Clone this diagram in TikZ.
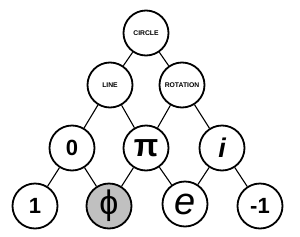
\documentclass[tikz,border=0pt]{standalone}
\usepackage{fontspec}
\setmainfont{Liberation Sans}
\begin{document}
\begin{tikzpicture}[x=1pt,y=-1pt,
  nd/.style={circle,draw=black,line width=1.8pt,fill=white,minimum size=45pt,inner sep=0pt},
  small/.style={font=\bfseries\fontsize{6.8}{7}\selectfont},
  big/.style={font=\bfseries\fontsize{22}{24}\selectfont},
  conn/.style={line width=1.1pt,black}]
\useasboundingbox (0,0) rectangle (300,236);
\node[nd,small] (circ) at (146,33) {CIRCLE};
\node[nd,small] (line) at (110,85) {LINE};
\node[nd,small] (rot) at (182,85) {ROTATION};
\node[nd,big] (zero) at (72,148) {0};
\node[nd,font=\bfseries\fontsize{32}{34}\selectfont] (pi) at (146,148) {π};
\node[nd,font=\itshape\bfseries\fontsize{27}{29}\selectfont] (ii) at (222,148) {i};
\node[nd,big] (one) at (35,206) {1};
\node[nd,fill={rgb,255:red,192;green,192;blue,192},font=\fontsize{34}{36}\selectfont] (phi) at (109,206) {ϕ};
\node[nd,font=\itshape\fontsize{38}{40}\selectfont] (ee) at (185,204) {e};
\node[nd,big] (m1) at (260,206) {-1};
\draw[conn] (circ) -- (line);
\draw[conn] (circ) -- (rot);
\draw[conn] (line) -- (zero);
\draw[conn] (line) -- (pi);
\draw[conn] (rot) -- (pi);
\draw[conn] (rot) -- (ii);
\draw[conn] (zero) -- (one);
\draw[conn] (zero) -- (phi);
\draw[conn] (pi) -- (phi);
\draw[conn] (pi) -- (ee);
\draw[conn] (ii) -- (ee);
\draw[conn] (ii) -- (m1);
\end{tikzpicture}
\end{document}
